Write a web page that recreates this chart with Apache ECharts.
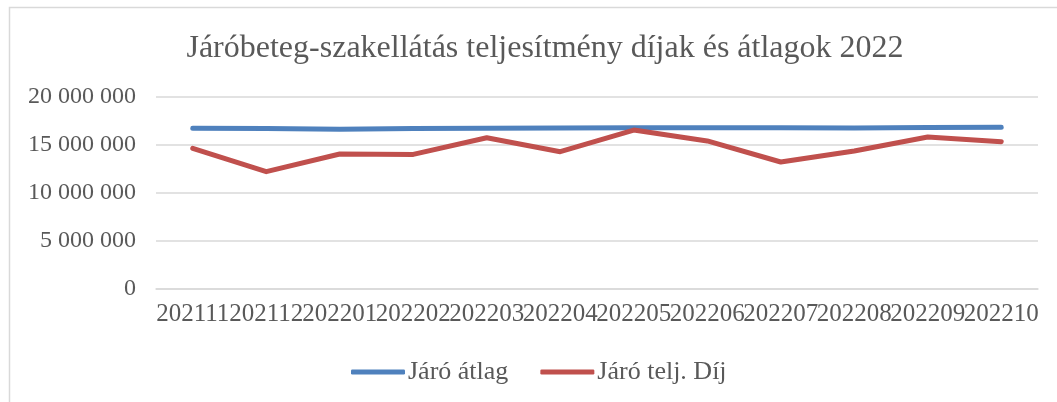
<!DOCTYPE html>
<html>
<head>
<meta charset="utf-8">
<script src="https://cdn.jsdelivr.net/npm/echarts@6/dist/echarts.min.js"></script>
<style>
    html, body { margin: 0; padding: 0; background: #fff; }
    #chart { width: 1057px; height: 402px; }
</style>
</head>
<body>
<div id="chart"></div>
<script>
// adatok
var months = ['202111', '202112', '202201', '202202', '202203', '202204',
    '202205', '202206', '202207', '202208', '202209', '202210'];
var jaroAtlag = [16750000, 16720000, 16650000, 16720000, 16750000, 16780000,
    16800000, 16800000, 16800000, 16780000, 16820000, 16860000];
var jaroTeljDij = [14660000, 12220000, 14060000, 14020000, 15760000, 14300000,
    16560000, 15420000, 13230000, 14380000, 15830000, 15350000];
var yTicks = [0, 5000000, 10000000, 15000000, 20000000];

var serif = '"Liberation Serif", "DejaVu Serif", serif';
var textColor = '#595959';

window.onload = function () {
    var myChart = echarts.init(document.getElementById('chart'));

    var option = {
        backgroundColor: '#fff',
        animation: false,
        title: {
            text: 'Járóbeteg-szakellátás teljesítmény díjak és átlagok 2022',
            left: 540,
            top: 28,
            textAlign: 'center',
            textStyle: {
                fontFamily: serif,
                fontSize: 32,
                fontWeight: 'normal',
                color: textColor
            }
        },
        graphic: [{
            type: 'rect',
            shape: { x: 9.5, y: 7.5, width: 1100, height: 500 },
            style: { fill: 'none', stroke: '#d9d9d9', lineWidth: 1.5 },
            silent: true
        }],
        legend: {
            left: 346,
            top: 354,
            itemWidth: 54,
            itemHeight: 5,
            itemGap: 32,
            icon: 'roundRect',
            textStyle: {
                fontFamily: serif,
                fontSize: 26,
                color: textColor,
                padding: [0, 0, 0, -2]
            },
            data: ['Járó átlag', 'Járó telj. Díj']
        },
        grid: {
            left: 156,
            right: 19,
            top: 97,
            bottom: 113
        },
        xAxis: {
            type: 'category',
            data: months,
            axisLine: { show: true, lineStyle: { color: '#d9d9d9', width: 1.5 } },
            axisTick: { show: false },
            axisLabel: {
                interval: 0,
                hideOverlap: false,
                margin: 13,
                fontFamily: serif,
                fontSize: 25,
                color: textColor
            }
        },
        yAxis: {
            type: 'value',
            min: yTicks[0],
            max: yTicks[yTicks.length - 1],
            interval: yTicks[1] - yTicks[0],
            axisLine: { show: false },
            axisTick: { show: false },
            splitLine: { lineStyle: { color: '#d9d9d9', width: 1.5 } },
            axisLabel: {
                margin: 20,
                fontFamily: serif,
                fontSize: 24,
                color: textColor,
                formatter: function (v) {
                    return String(v).replace(/\B(?=(\d{3})+(?!\d))/g, ' ');
                }
            }
        },
        series: [{
            name: 'Járó átlag',
            type: 'line',
            data: jaroAtlag,
            showSymbol: false,
            color: '#4F81BD',
            lineStyle: { width: 5, cap: 'round', join: 'round' }
        }, {
            name: 'Járó telj. Díj',
            type: 'line',
            data: jaroTeljDij,
            showSymbol: false,
            color: '#C0504D',
            lineStyle: { width: 5, cap: 'round', join: 'round' }
        }]
    };

    myChart.setOption(option);
};
</script>
</body>
</html>
